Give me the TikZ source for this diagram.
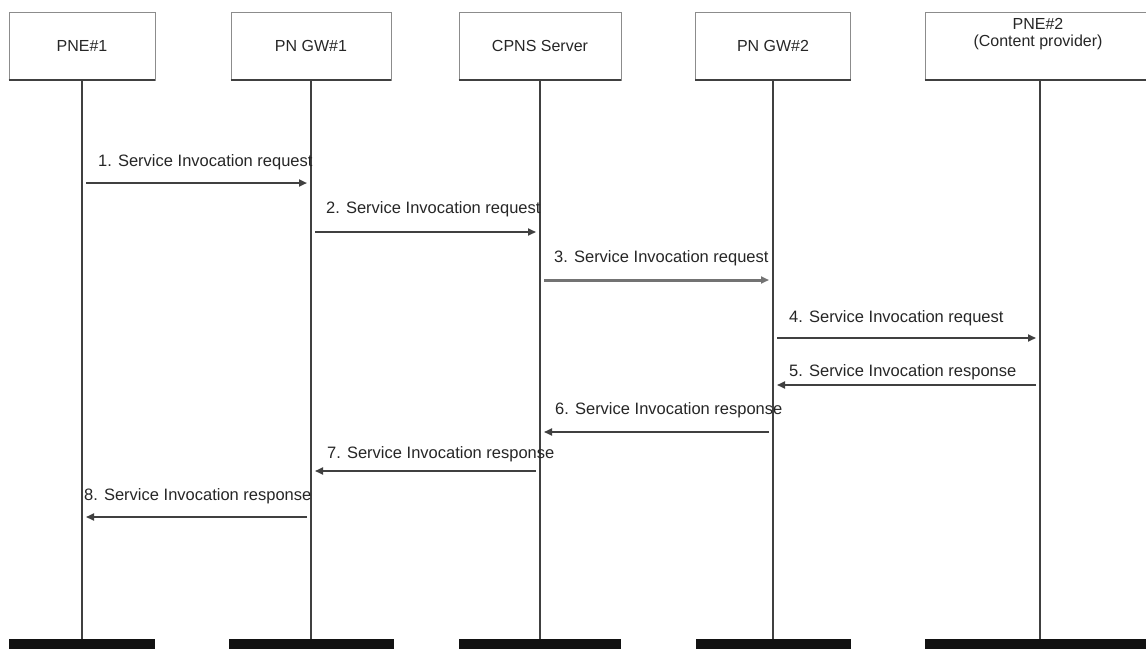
\documentclass[tikz,border=0pt]{standalone}
\usepackage{fontspec}
\setmainfont{Liberation Sans}
\usetikzlibrary{arrows.meta}
\definecolor{lifegray}{HTML}{404040}
\definecolor{boxgray}{HTML}{8C8C8C}
\definecolor{textgray}{HTML}{262626}

\begin{document}
\begin{tikzpicture}[x=1pt, y=-1pt,
    actor/.style={draw=boxgray, line width=0.8pt, minimum height=68pt, inner sep=0pt,
                  align=center, font=\fontsize{16}{17}\selectfont, text=textgray},
    actortext/.style={inner sep=0pt, align=center, font=\fontsize{16}{17}\selectfont, text=textgray},
    actorend/.style={fill=black!93, minimum height=10pt, inner sep=0pt},
    lifeline/.style={draw=lifegray, line width=2pt},
    msg/.style={draw=lifegray, line width=1.8pt, -{Triangle[length=8pt,width=7pt]},
                shorten <=4pt, shorten >=4pt},
    msglabel/.style={anchor=base west, inner sep=0pt,
                     font=\fontsize{16.5}{18}\selectfont, text=textgray}]
  \useasboundingbox (0,0) rectangle (1146,648);

  % participants
  \node[actor, minimum width=146pt] (pneone) at (82,46) {PNE\#1};
  \node[actor, minimum width=160pt] (gwone) at (311,46) {PN GW\#1};
  \node[actor, minimum width=162pt] (cpns) at (540,46) {CPNS Server};
  \node[actor, minimum width=155pt] (gwtwo) at (773,46) {PN GW\#2};
  \node[actor, minimum width=230pt] (pnetwo) at (1040,46) {};
  \node[actortext] (pnetwotext) at (1038,34) {PNE\#2\\(Content provider)};
  \foreach \n in {pneone, gwone, cpns, gwtwo, pnetwo}
    \draw[lifegray, line width=2pt] (\n.south west) -- (\n.south east);

  % end bars
  \node[actorend, minimum width=146pt] (pneoneend) at (82,644) {};
  \node[actorend, minimum width=165pt] (gwoneend) at (311,644) {};
  \node[actorend, minimum width=162pt] (cpnsend) at (540,644) {};
  \node[actorend, minimum width=155pt] (gwtwoend) at (773,644) {};
  \node[actorend, minimum width=230pt] (pnetwoend) at (1040,644) {};

  % lifelines
  \draw[lifeline] (pneone.south) -- (pneoneend.north);
  \draw[lifeline] (gwone.south) -- (gwoneend.north);
  \draw[lifeline] (cpns.south) -- (cpnsend.north);
  \draw[lifeline, line width=2.6pt] (gwtwo.south) -- (gwtwoend.north);
  \draw[lifeline] (pnetwo.south) -- (pnetwoend.north);

  % requests
  \draw[msg, line width=2.2pt] (pneone |- 0,183) -- (gwone |- 0,183);
  \node[msglabel] (reqone) at (98,166) {1. Service Invocation request};
  \draw[msg] (gwone |- 0,232) -- (cpns |- 0,232);
  \node[msglabel] (reqtwo) at (326,213) {2. Service Invocation request};
  \draw[msg, draw=black!55, line width=3pt] (cpns |- 0,280) -- (gwtwo |- 0,280);
  \node[msglabel] (reqthree) at (554,262) {3. Service Invocation request};
  \draw[msg] (gwtwo |- 0,338) -- (pnetwo |- 0,338);
  \node[msglabel] (reqfour) at (789,322) {4. Service Invocation request};

  % responses
  \draw[msg] (pnetwo |- 0,385) -- (gwtwo |- 0,385);
  \node[msglabel] (resfive) at (789,376) {5. Service Invocation response};
  \draw[msg] (gwtwo |- 0,432) -- (cpns |- 0,432);
  \node[msglabel] (ressix) at (555,414) {6. Service Invocation response};
  \draw[msg] (cpns |- 0,471) -- (gwone |- 0,471);
  \node[msglabel] (resseven) at (327,458) {7. Service Invocation response};
  \draw[msg] (gwone |- 0,517) -- (pneone |- 0,517);
  \node[msglabel] (reseight) at (84,500) {8. Service Invocation response};
\end{tikzpicture}
\end{document}
